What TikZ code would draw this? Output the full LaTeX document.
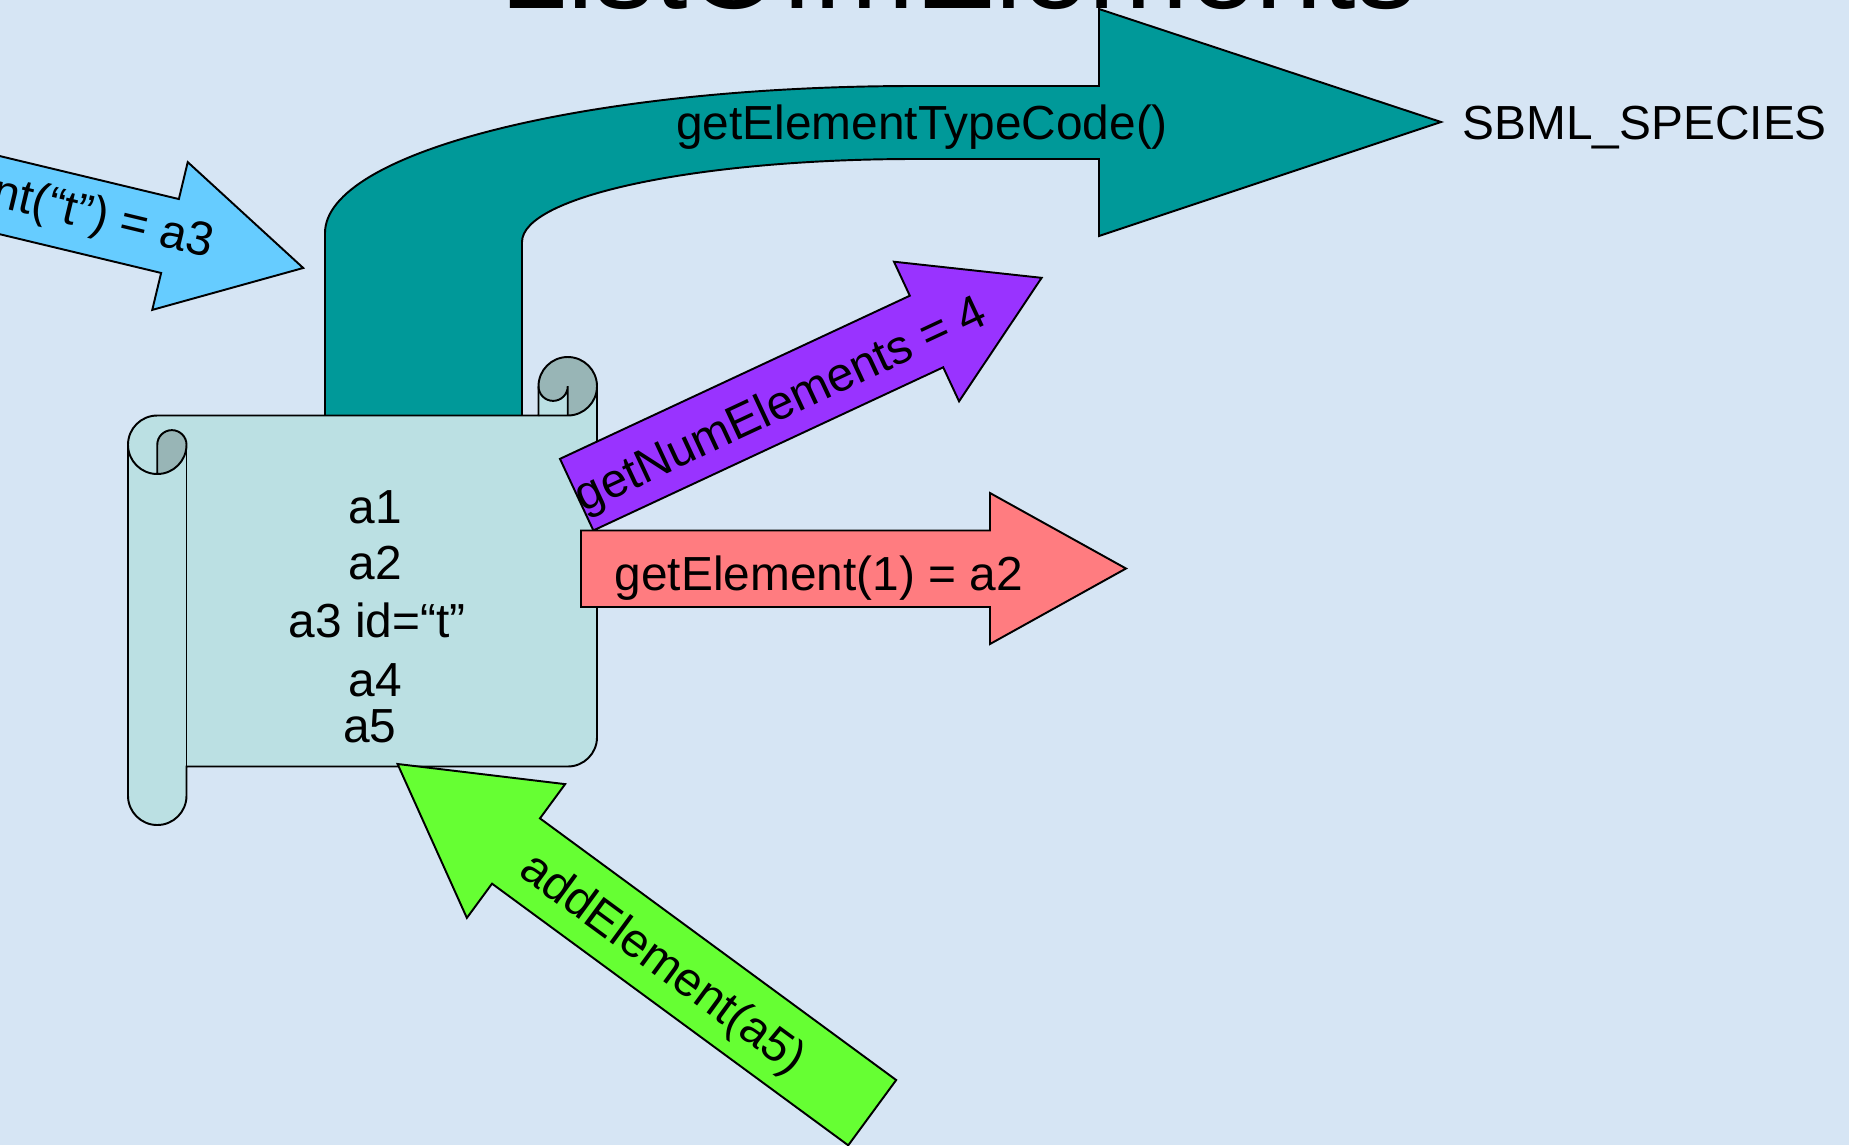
\documentclass[tikz,border=0pt]{standalone}
\usepackage{fontspec}
\setmainfont{Liberation Sans}

\definecolor{bgblue}{RGB}{214,229,244}
\definecolor{scrollfill}{RGB}{187,224,227}
\definecolor{scrolldark}{RGB}{152,181,182}
\definecolor{typeteal}{RGB}{0,153,153}
\definecolor{findblue}{RGB}{102,204,255}
\definecolor{numpurple}{RGB}{153,51,255}
\definecolor{getred}{RGB}{255,124,128}
\definecolor{addgreen}{RGB}{102,255,51}

\tikzset{
  lbl/.style={inner sep=0pt, font=\fontsize{13.6}{16}\selectfont},
  outline/.style={draw=black, line width=0.55pt},
}

\begin{document}
\begin{tikzpicture}[x=0.01cm, y=-0.01cm]
%\draw[step=100,gray,very thin] (0,0) grid (1849,1145); %helper grid
\useasboundingbox (0,0) rectangle (1849,1145);
\clip (0,0) rectangle (1849,1145);
\fill[bgblue] (0,0) rectangle (1849,1145);

% title, mostly above the page
\node[inner sep=0pt, anchor=base west, font=\fontsize{34.2}{40}\selectfont] (title) at (500,8.5) {ListOfmElements};

% bent arrow to the type code
\draw[outline, fill=typeteal] (325,425) -- (325,233)
  arc[start angle=180, end angle=270, x radius=590, y radius=147]
  -- (1099,86) -- (1099,9) -- (1441,122) -- (1099,236) -- (1099,159) -- (915,159)
  arc[start angle=270, end angle=180, x radius=393, y radius=83]
  -- (522,425) -- cycle;
\node[lbl, anchor=base] (typecode) at (922,139) {getElementTypeCode()};
\node[lbl, anchor=base west] (species) at (1462,139) {SBML\_SPECIES};

% blue arrow, comes in from the left
\begin{scope}[shift={(170,236)}, rotate=-13.5]
\draw[outline, fill=findblue] (-600,-38) -- (0,-38) -- (0,-76) -- (137,0) -- (0,76) -- (0,38) -- (-600,38) -- cycle;
\node[lbl, anchor=base east, transform shape] (findlbl) at (44,12) {getElement(“t”) = a3};
\end{scope}

% scroll
\fill[scrollfill] (597,386.25) arc[start angle=0, delta angle=90, radius=29.25]
  -- (567.75,386.25) arc[start angle=0, delta angle=180, radius=14.625]
  -- (538.5,415.5) -- (157.25,415.5) arc[start angle=270, delta angle=-90, radius=29.25]
  -- (128,795.75) arc[start angle=180, delta angle=-180, radius=29.25]
  -- (186.5,766.5) -- (567.75,766.5) arc[start angle=90, delta angle=-90, radius=29.25]
  -- cycle;
\fill[scrolldark] (157.25,474) arc[start angle=90, delta angle=-90, radius=29.25]
  arc[start angle=0, delta angle=-180, radius=14.625] -- cycle;
\fill[scrolldark] (567.75,415.5) arc[start angle=90, delta angle=-270, radius=29.25]
  arc[start angle=180, delta angle=-180, radius=14.625] -- cycle;
\draw[outline] (128,444.75) arc[start angle=180, delta angle=90, radius=29.25]
  -- (538.5,415.5) -- (538.5,386.25) arc[start angle=180, delta angle=180, radius=29.25]
  -- (597,737.25) arc[start angle=0, delta angle=90, radius=29.25]
  -- (186.5,766.5) -- (186.5,795.75) arc[start angle=0, delta angle=180, radius=29.25]
  -- cycle;
\draw[outline] (538.5,415.5) -- (567.75,415.5) arc[start angle=90, delta angle=-90, radius=29.25];
\draw[outline] (567.75,415.5) -- (567.75,386.25) arc[start angle=0, delta angle=180, radius=14.625];
\draw[outline] (157.25,474) -- (157.25,444.75) arc[start angle=180, delta angle=180, radius=14.625]
  arc[start angle=0, delta angle=180, radius=29.25];
\draw[outline] (186.5,444.75) -- (186.5,766.5);

\node[lbl, anchor=base] (item1) at (375,523) {a1};
\node[lbl, anchor=base] (item2) at (375,579) {a2};
\node[lbl, anchor=base] (item3) at (377,637) {a3 id=“t”};
\node[lbl, anchor=base] (item4) at (375,696) {a4};
\node[lbl, anchor=base] (item5) at (370,742) {a5};

% purple arrow
\begin{scope}[shift={(926.5,331.5)}, rotate=25]
\draw[outline, fill=numpurple] (-386,-39.5) -- (0,-39.5) -- (0,-77) -- (127,0) -- (0,77) -- (0,39.5) -- (-386,39.5) -- cycle;
\node[lbl, transform shape] (numlbl) at (-163,7) {getNumElements = 4};
\end{scope}

% red arrow
\draw[outline, fill=getred] (581,530.5) -- (990,530.5) -- (990,493) -- (1126,568.5) -- (990,644) -- (990,607) -- (581,607) -- cycle;
\node[lbl, anchor=base west] (getlbl) at (614,590) {getElement(1) = a2};

% green arrow
\begin{scope}[shift={(516,851)}, rotate=143.7]
\draw[outline, fill=addgreen] (-442,-40.5) -- (0,-40.5) -- (0,-83) -- (147,0) -- (0,83) -- (0,40.5) -- (-442,40.5) -- cycle;
\end{scope}
\node[lbl, rotate=-36.3] (addlbl) at (662,965) {addElement(a5)};

\end{tikzpicture}
\end{document}
